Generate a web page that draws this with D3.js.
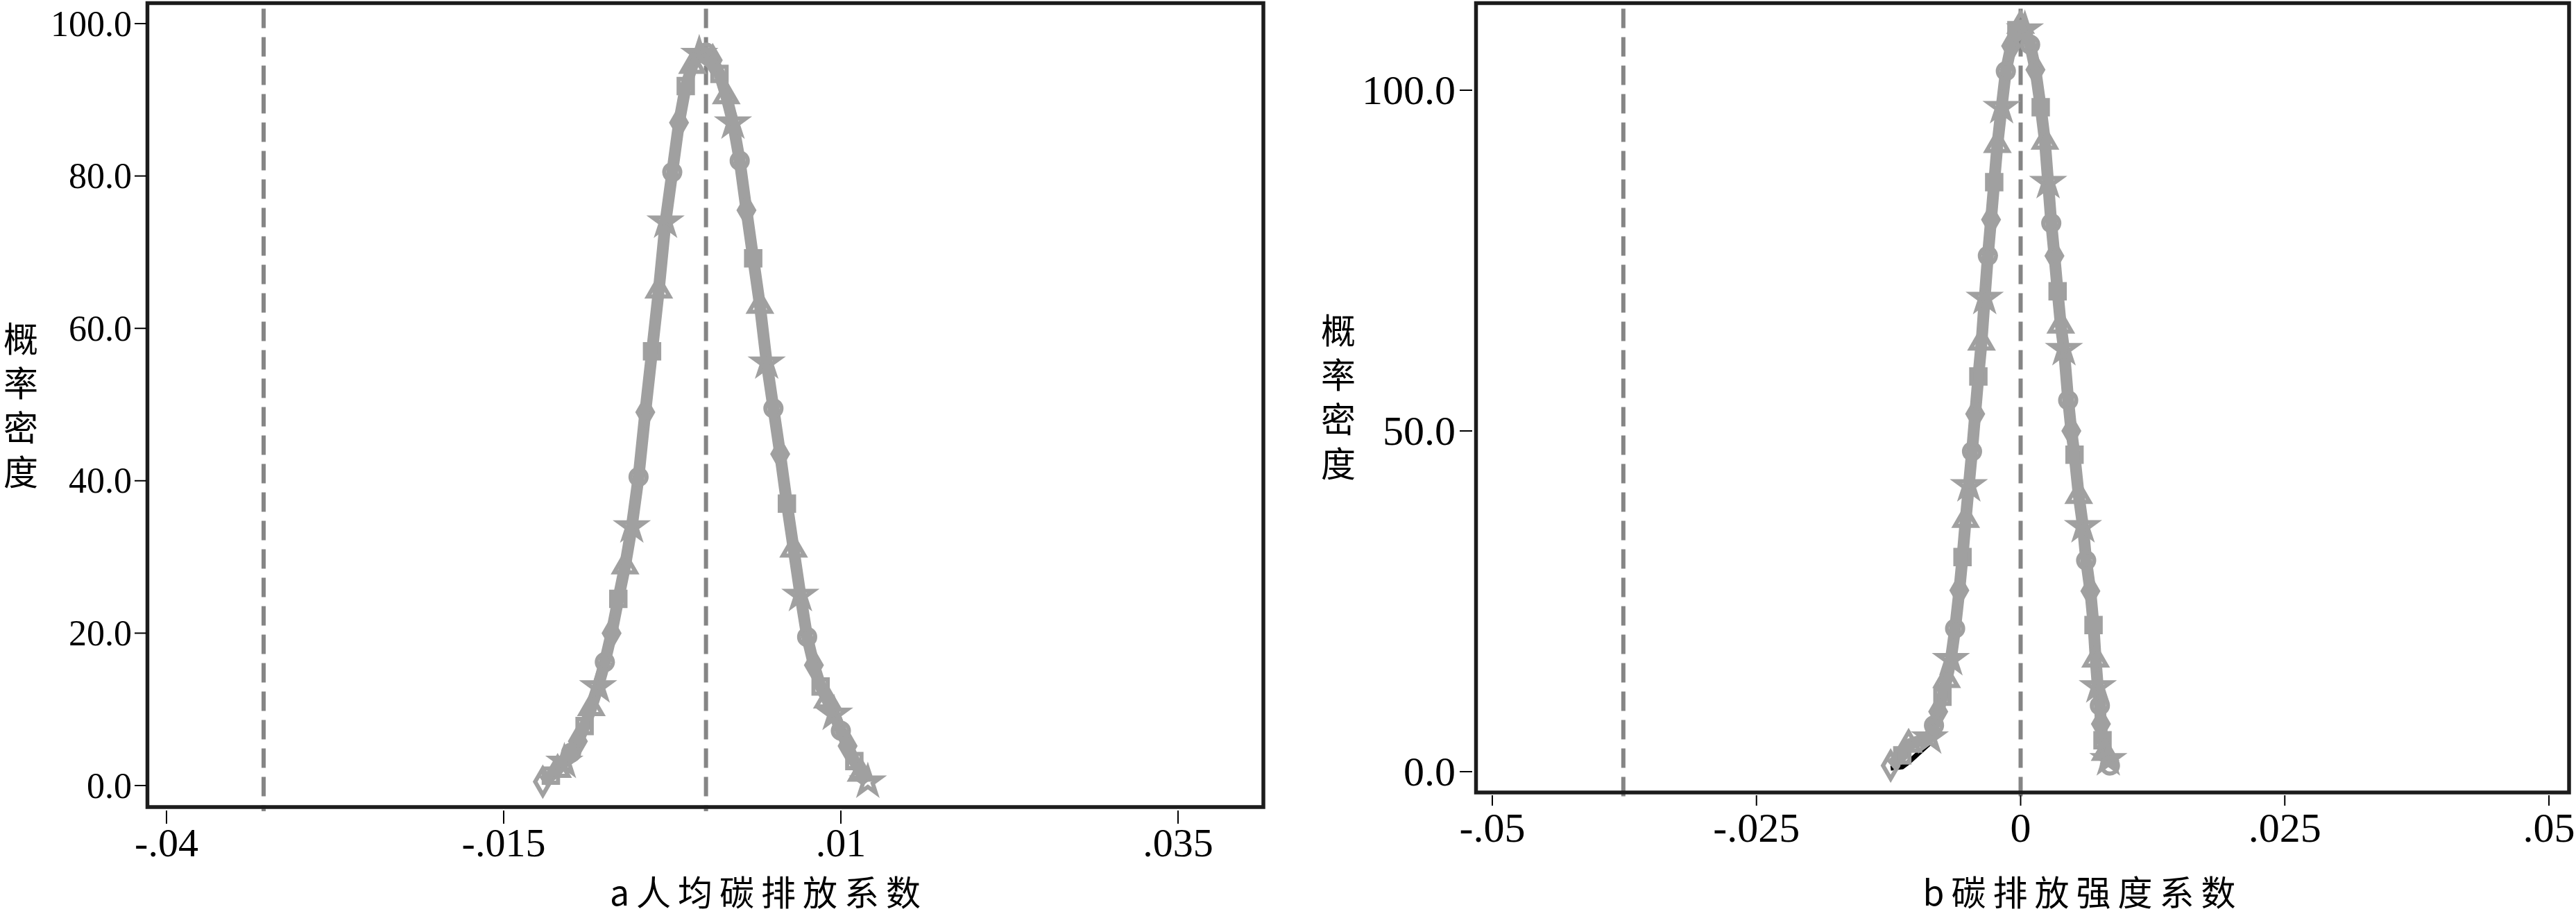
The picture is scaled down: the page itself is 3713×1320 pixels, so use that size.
<!DOCTYPE html>
<html><head><meta charset="utf-8">
<script src="https://cdn.jsdelivr.net/npm/d3@7"></script>
<style>html,body{margin:0;padding:0;background:#fff;}svg{display:block;}</style>
</head><body>
<svg id="chart" width="3713" height="1320"></svg>
<script>
// ---------------- data ----------------
// Panel a: 人均碳排放系数 (x values, density)
const aX = [-0.0121,-0.0115,-0.0110,-0.0105,-0.0100,-0.0095,-0.0090,-0.0085,-0.0080,-0.0075,-0.0070,-0.0065,-0.0060,-0.0055,-0.0050,-0.0045,-0.0040,-0.0035,-0.0030,-0.0025,-0.0020,-0.0015,-0.0010,-0.0005,0.0000,0.0005,0.0010,0.0015,0.0020,0.0025,0.0030,0.0035,0.0040,0.0045,0.0050,0.0055,0.0060,0.0065,0.0070,0.0075,0.0080,0.0085,0.0090,0.0095,0.0100,0.0105,0.0110,0.0115,0.0120];
const aGray = [0.5,1.3,2.1,3.1,4.3,5.8,7.8,10.2,13.0,16.2,20.0,24.5,28.8,34.0,40.5,49.0,57.0,65.0,74.0,80.5,87.0,91.8,94.5,96.0,96.2,95.2,93.4,90.5,87.0,82.0,75.5,69.2,63.0,55.5,49.5,43.5,37.0,31.0,25.0,19.5,15.8,13.0,11.2,9.4,7.2,5.2,3.2,1.6,0.5];
const aBlack = [0.6,1.6,2.6,3.8,5.0,6.7,8.6,11.2,14.0,17.4,21.0,25.3,29.6,34.6,41.0,49.0,57.0,65.0,74.0,80.5,87.0,91.8,94.5,96.0,96.2,95.2,93.4,90.5,87.0,82.0,75.5,69.2,63.0,55.5,49.5,44.2,37.8,32.0,26.0,20.6,16.8,14.0,12.0,10.2,8.0,6.0,3.8,2.0,0.6];
const aRefLines = [-0.0328, 0.0];
const aXTicks = [-0.04, -0.015, 0.01, 0.035];
const aXTickLabels = ["-.04", "-.015", ".01", ".035"];
const aYTicks = [0, 20, 40, 60, 80, 100];
const aYTickLabels = ["0.0", "20.0", "40.0", "60.0", "80.0", "100.0"];
const aTitle = "a人均碳排放系数";

// Panel b: 碳排放强度系数
const bX = [-0.0123,-0.0112,-0.0106,-0.0086,-0.0082,-0.0078,-0.0074,-0.0070,-0.0066,-0.0062,-0.0058,-0.0055,-0.0052,-0.0049,-0.0046,-0.0043,-0.0040,-0.0037,-0.0034,-0.0031,-0.0028,-0.0025,-0.0022,-0.0018,-0.0014,-0.0009,-0.0004,0.0000,0.0004,0.0009,0.0014,0.0019,0.0023,0.0026,0.0029,0.0032,0.0035,0.0038,0.0041,0.0045,0.0048,0.0051,0.0055,0.0059,0.0062,0.0066,0.0069,0.0071,0.0073,0.0075,0.0076,0.00775,0.0080,0.0083,0.00845];
const bGray = [0.9,2.4,4.0,5.0,6.8,8.8,11.0,13.5,16.5,21.0,26.6,31.5,37.0,42.0,47.0,52.5,58.0,63.0,69.5,75.7,81.0,86.5,92.0,97.5,102.8,106.5,108.8,109.5,108.9,106.7,103.0,97.5,92.5,86.5,80.5,75.7,70.5,65.5,62.0,54.5,50.0,46.5,40.5,36.0,31.0,26.5,21.5,16.5,12.5,9.7,7.0,4.6,2.8,1.8,0.9];
const bBlack = [0.5,0.7,1.4,4.2,6.4,8.6,11.0,13.5,16.5,21.0,26.6,31.5,37.0,42.0,47.0,52.5,58.0,63.0,69.5,75.7,81.0,86.5,92.0,97.5,102.8,106.5,108.8,109.5,108.9,106.7,103.0,97.5,92.5,86.5,80.5,75.7,70.5,65.5,62.0,54.5,50.0,46.5,40.5,36.0,31.0,26.5,21.5,16.5,12.5,9.7,8.3,6.0,3.5,2.0,0.9];
const bRefLines = [-0.0376, 0.0];
const bXTicks = [-0.05, -0.025, 0, 0.025, 0.05];
const bXTickLabels = ["-.05", "-.025", "0", ".025", ".05"];
const bYTicks = [0, 50, 100];
const bYTickLabels = ["0.0", "50.0", "100.0"];
const bTitle = "b碳排放强度系数";

const yTitleChars = ["概", "率", "密", "度"];
const markerTypes = [d3.symbolDiamond, d3.symbolSquare, d3.symbolTriangle, d3.symbolStar, d3.symbolCircle];

// ---------------- drawing ----------------
const svg = d3.select("#chart");
const SERIF = "'Liberation Serif', 'Times New Roman', Times, 'DejaVu Serif', serif";
const CJK = "'Noto Sans CJK SC', 'Noto Sans CJK JP', sans-serif";
const GRAY = "#a0a0a0", DASH = "#858585", FRAME = "#1c1c1c";

function panel(cfg) {
  const g = svg.append("g");
  const x = d3.scaleLinear().domain(cfg.xDomain).range(cfg.xRange);
  const y = d3.scaleLinear().domain([0, 100]).range(cfg.yRange100);
  const [fx0, fx1] = cfg.frameX, [fy0, fy1] = cfg.frameY;

  // reference dashed lines
  g.selectAll("line.ref").data(cfg.refs).join("line")
    .attr("x1", d => x(d)).attr("x2", d => x(d))
    .attr("y1", fy0 + 8).attr("y2", fy1 + 6)
    .attr("stroke", DASH).attr("stroke-width", 6)
    .attr("stroke-dasharray", "28,13");

  const pts = (ys) => cfg.xs.map((v, i) => [v, ys[i]]);
  const line = d3.line().x(d => x(d[0])).y(d => y(d[1]));

  // black line (underneath)
  g.append("path").datum(pts(cfg.black)).attr("d", line)
    .attr("fill", "none").attr("stroke", "#000").attr("stroke-width", 7)
    .attr("stroke-linejoin", "miter");
  // gray thick line
  g.append("path").datum(pts(cfg.gray)).attr("d", line)
    .attr("fill", "none").attr("stroke", GRAY).attr("stroke-width", 17)
    .attr("stroke-linejoin", "round");
  // gray hollow markers
  g.selectAll("path.mk").data(pts(cfg.gray)).join("path")
    .attr("transform", d => `translate(${x(d[0])},${y(d[1])})`)
    .attr("d", (d, i) => d3.symbol().type(markerTypes[i % markerTypes.length]).size(420)())
    .attr("fill", "none").attr("stroke", GRAY).attr("stroke-width", 6);

  // frame
  g.append("rect").attr("x", fx0).attr("y", fy0)
    .attr("width", fx1 - fx0).attr("height", fy1 - fy0)
    .attr("fill", "none").attr("stroke", FRAME).attr("stroke-width", 5.5);

  // y ticks
  g.selectAll("line.yt").data(cfg.yTicks).join("line")
    .attr("x1", cfg.yTickX[0]).attr("x2", cfg.yTickX[1])
    .attr("y1", d => y(d)).attr("y2", d => y(d))
    .attr("stroke", "#000").attr("stroke-width", 2);
  g.selectAll("text.yl").data(cfg.yTicks).join("text")
    .attr("x", cfg.yLabelX).attr("y", d => y(d)).attr("dy", "0.34em")
    .attr("text-anchor", "end").style("font-family", SERIF)
    .attr("font-size", cfg.yFont).attr("fill", "#000")
    .text((d, i) => cfg.yLabels[i]);

  // x ticks
  g.selectAll("line.xt").data(cfg.xTicks).join("line")
    .attr("x1", d => x(d)).attr("x2", d => x(d))
    .attr("y1", cfg.xTickY[0]).attr("y2", cfg.xTickY[1])
    .attr("stroke", "#000").attr("stroke-width", 2);
  g.selectAll("text.xl").data(cfg.xTicks).join("text")
    .attr("x", d => x(d)).attr("y", cfg.xLabelY)
    .attr("text-anchor", "middle").style("font-family", SERIF)
    .attr("font-size", cfg.xFont).attr("fill", "#000")
    .text((d, i) => cfg.xLabels[i]);

  // x title
  g.append("text").attr("x", cfg.titleX).attr("y", cfg.titleY)
    .attr("text-anchor", "middle").style("font-family", CJK)
    .attr("font-size", 50).attr("letter-spacing", 10).attr("fill", "#000")
    .text(cfg.title);

  // y title: one text element, characters stacked with tspans
  const yt = g.append("text")
    .attr("text-anchor", "middle").style("font-family", CJK)
    .attr("font-size", cfg.yTitleFont).attr("fill", "#000");
  yt.selectAll("tspan").data(yTitleChars).join("tspan")
    .attr("x", cfg.yTitleX)
    .attr("y", (d, i) => cfg.yTitleY0 + i * cfg.yTitleStep)
    .text(d => d);
}

panel({
  xs: aX, gray: aGray, black: aBlack, refs: aRefLines,
  xDomain: [-0.04, 0.035], xRange: [240, 1698],
  yRange100: [1132, 34],
  frameX: [212.5, 1821], frameY: [4.5, 1163],
  yTicks: aYTicks, yLabels: aYTickLabels, yTickX: [194, 211], yLabelX: 190, yFont: 52,
  xTicks: aXTicks, xLabels: aXTickLabels, xTickY: [1168, 1187], xLabelY: 1234, xFont: 58,
  title: aTitle, titleX: 1108, titleY: 1305,
  yTitleX: 30, yTitleY0: 507, yTitleStep: 64, yTitleFont: 50
});

panel({
  xs: bX, gray: bGray, black: bBlack, refs: bRefLines,
  xDomain: [-0.05, 0.05], xRange: [2151, 3674],
  yRange100: [1112, 130],
  frameX: [2127.5, 3703], frameY: [4.5, 1142],
  yTicks: bYTicks, yLabels: bYTickLabels, yTickX: [2104, 2122], yLabelX: 2098, yFont: 60,
  xTicks: bXTicks, xLabels: bXTickLabels, xTickY: [1146, 1161], xLabelY: 1213, xFont: 60,
  title: bTitle, titleX: 3002, titleY: 1305,
  yTitleX: 1929, yTitleY0: 495, yTitleStep: 64, yTitleFont: 50
});
</script>
</body></html>
